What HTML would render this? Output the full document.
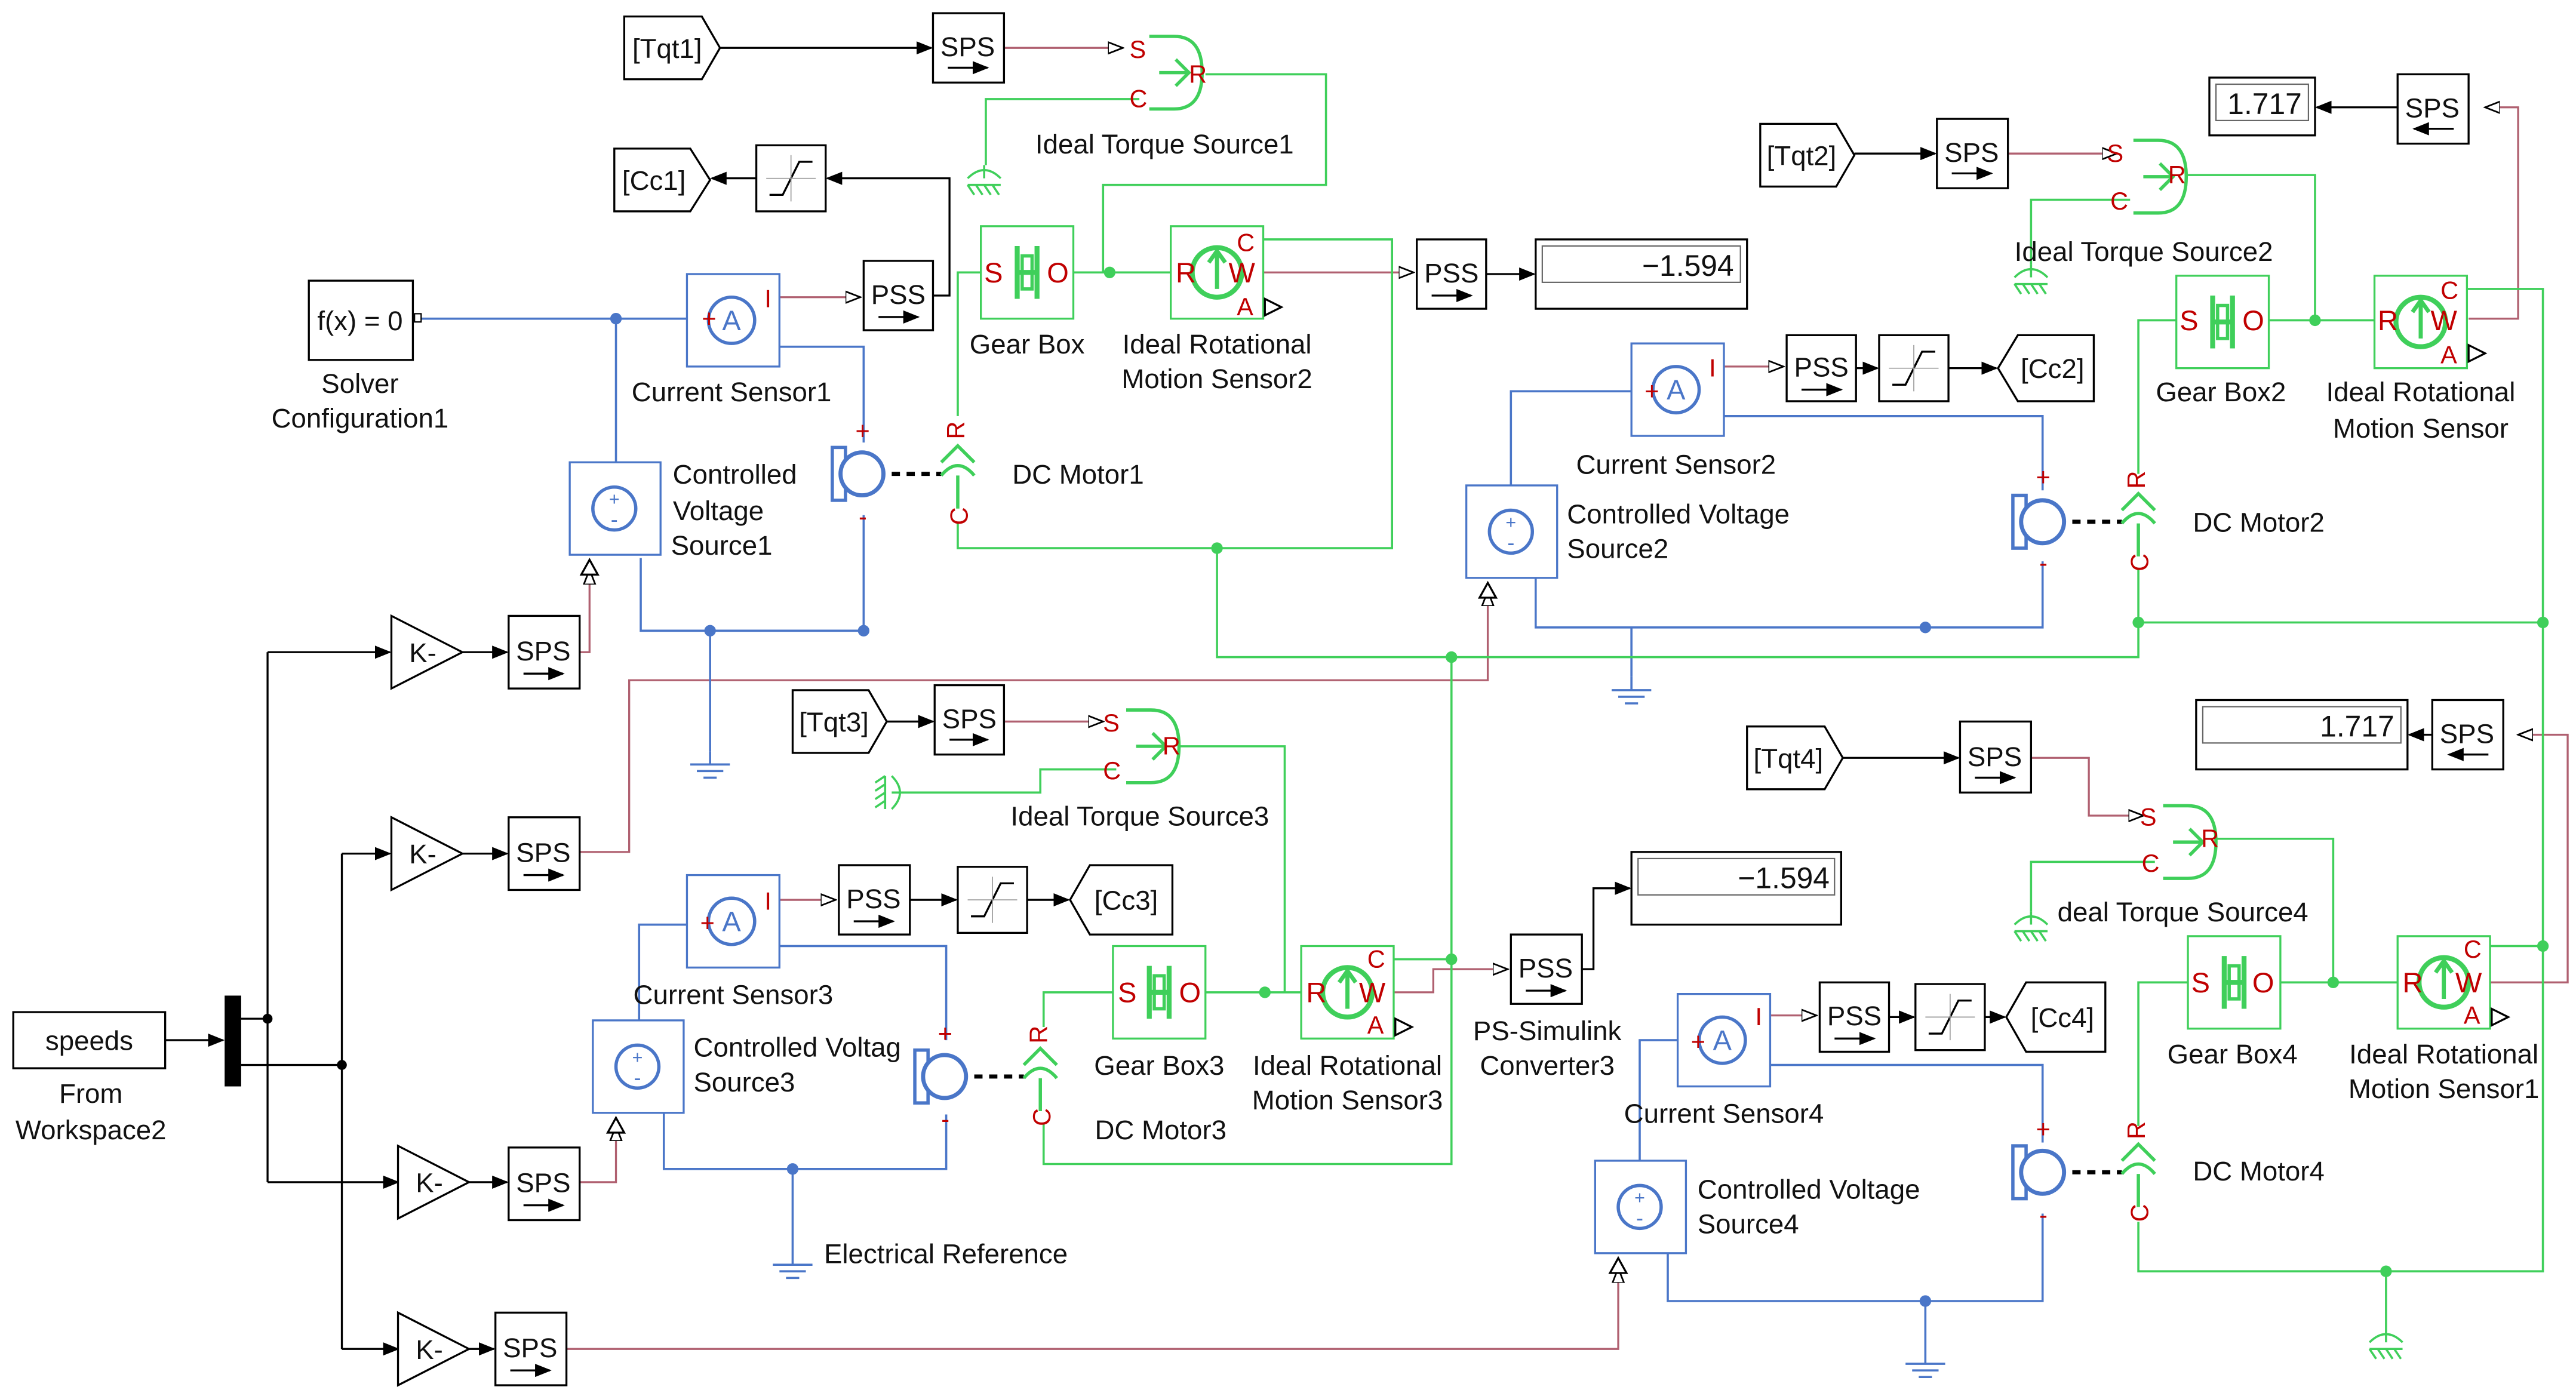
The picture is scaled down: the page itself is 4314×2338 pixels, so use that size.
<!DOCTYPE html>
<html><head><meta charset="utf-8"><style>
html,body{margin:0;padding:0;background:#fff}
svg{display:block}
text{font-family:"Liberation Sans",Arial,sans-serif;font-size:16.5px;fill:#111}
.b{fill:none;stroke:#4a76c8;stroke-width:1.3}
.g{fill:none;stroke:#3fcf5a;stroke-width:1.3}
.r{fill:none;stroke:#b06070;stroke-width:1.2}
.k{fill:none;stroke:#000;stroke-width:1.2}
.blk{fill:#fff;stroke:#000;stroke-width:1.2}
.bbx{fill:#fff;stroke:#4a76c8;stroke-width:1.2}
.gbx{fill:#fff;stroke:#3fcf5a;stroke-width:1.2}
.pr{fill:#c00000;font-size:15px}
.m{text-anchor:middle}
.sm{font-size:15px}
.dotb{fill:#4a76c8}.dotg{fill:#3fcf5a}
</style></head><body>
<svg width="4314" height="2338" viewBox="0 0 1560 845.5" xmlns="http://www.w3.org/2000/svg">
<defs>
<marker id="ab" markerWidth="10" markerHeight="8" refX="9" refY="4" orient="auto" markerUnits="userSpaceOnUse"><path d="M0,0L10,4L0,8z" fill="#000"/></marker>
<marker id="ao" markerWidth="10" markerHeight="8" refX="9" refY="4" orient="auto" markerUnits="userSpaceOnUse"><path d="M0,0.5L9,4L0,7.5z" fill="#fff" stroke="#000"/></marker>
<g id="sat"><rect width="42" height="40" class="blk"/><path d="M8,30H16L26,10H34" class="k"/><path d="M21,6V34M6,20H36" stroke="#999" stroke-width=".6"/></g>
<g id="gnd"><path d="M12,0V8M0,8H24M4,12H20M8,16H16" class="b"/></g>
<g id="ggnd"><path d="M10,0L10,8M0,8Q10,-2 20,8" class="g" stroke-width="2"/><path d="M0,12L4,18M5,12L9,18M10,12L14,18M15,12L19,18M0,12H20" class="g" stroke-width="1.5"/></g>
<g id="cs"><rect width="56" height="56" class="bbx"/><circle cx="27" cy="28" r="14" fill="#fff" stroke="#4a76c8" stroke-width="2"/><text x="27" y="34" class="m" style="fill:#4a76c8;font-size:17px">A</text></g>
<g id="vs"><rect width="55" height="56" class="bbx"/><circle cx="27" cy="28" r="13" fill="#fff" stroke="#4a76c8" stroke-width="2"/><text x="27" y="26" class="m" style="fill:#4a76c8;font-size:11px">+</text><text x="27" y="39" class="m" style="fill:#4a76c8;font-size:13px">-</text></g>
<g id="mot"><rect x="0" y="6" width="8" height="32" fill="none" stroke="#4a76c8" stroke-width="2"/><circle cx="18" cy="22" r="13" fill="#fff" stroke="#4a76c8" stroke-width="2.5"/></g>
<g id="gb"><rect width="56" height="56" class="gbx"/><path d="M22,12V44M34,12V44M22,28H34" stroke="#3fcf5a" stroke-width="3"/><rect x="25" y="18" width="6" height="20" fill="none" stroke="#3fcf5a" stroke-width="2"/></g>
<g id="ms"><rect width="56" height="56" class="gbx"/><circle cx="28" cy="28" r="15" fill="none" stroke="#3fcf5a" stroke-width="3"/><path d="M28,38V16M23,22L28,15L33,22" stroke="#3fcf5a" stroke-width="2.5" fill="none"/></g>
<g id="ts"><path d="M10,0H25Q42,0 42,22Q42,44 25,44H10" fill="#fff" stroke="#3fcf5a" stroke-width="2"/><path d="M16,22H34M26,14L34,22L26,30" stroke="#3fcf5a" stroke-width="2" fill="none"/></g>
<g id="cr"><path d="M0,20Q10,8 20,20M10,20V40M0,12L10,2L20,12" fill="none" stroke="#3fcf5a" stroke-width="2"/></g>
<g id="gain"><path d="M0,0L43,22L0,44z" class="blk"/></g>
</defs>

<!-- ========== WIRES: red signal ========== -->
<path d="M608,29H680" class="r" marker-end="url(#ao)"/>
<path d="M1216,93H1282" class="r" marker-end="url(#ao)"/>
<path d="M608,437H668" class="r" marker-end="url(#ao)"/>
<path d="M1230,459H1265V494H1298" class="r" marker-end="url(#ao)"/>
<path d="M765,165H856" class="r" marker-end="url(#ao)"/>
<path d="M1495,193H1525V65H1505" class="r" marker-end="url(#ao)"/>
<path d="M844,601H868V587H913" class="r" marker-end="url(#ao)"/>
<path d="M1508,595H1555V445H1525" class="r" marker-end="url(#ao)"/>
<path d="M351,395H357V345" class="r" marker-end="url(#ao)"/>
<path d="M351,516H381V412H901V358" class="r" marker-end="url(#ao)"/>
<path d="M351,716H373V682" class="r" marker-end="url(#ao)"/>
<path d="M343,817H980V768" class="r" marker-end="url(#ao)"/>
<path d="M472,180H521" class="r" marker-end="url(#ao)"/>
<path d="M1043,222H1080" class="r" marker-end="url(#ao)"/>
<path d="M472,545H506" class="r" marker-end="url(#ao)"/>
<path d="M1072,615H1100" class="r" marker-end="url(#ao)"/>

<!-- black -->
<path d="M436,29H564" class="k" marker-end="url(#ab)"/>
<path d="M1123,93H1172" class="k" marker-end="url(#ab)"/>
<path d="M537,437H565" class="k" marker-end="url(#ab)"/>
<path d="M1116,459H1186" class="k" marker-end="url(#ab)"/>
<path d="M565,179H575V108H501" class="k" marker-end="url(#ab)"/>
<path d="M458,108H431" class="k" marker-end="url(#ab)"/>
<path d="M900,166H929" class="k" marker-end="url(#ab)"/>
<path d="M1452,65H1403" class="k" marker-end="url(#ab)"/>
<path d="M1473,445H1459" class="k" marker-end="url(#ab)"/>
<path d="M1124,223H1137" class="k" marker-end="url(#ab)"/>
<path d="M1180,223H1209" class="k" marker-end="url(#ab)"/>
<path d="M551,545H579" class="k" marker-end="url(#ab)"/>
<path d="M622,545H647" class="k" marker-end="url(#ab)"/>
<path d="M1144,616H1159" class="k" marker-end="url(#ab)"/>
<path d="M1202,616H1214" class="k" marker-end="url(#ab)"/>
<path d="M958,587H965V538H987" class="k" marker-end="url(#ab)"/>
<path d="M100,630H135" class="k" marker-end="url(#ab)"/>
<path d="M146,617H162M162,395V716M146,645H207M207,517V817" class="k"/>
<path d="M162,395H236" class="k" marker-end="url(#ab)"/>
<path d="M162,716H241" class="k" marker-end="url(#ab)"/>
<path d="M207,517H236" class="k" marker-end="url(#ab)"/>
<path d="M207,817H241" class="k" marker-end="url(#ab)"/>
<path d="M280,395H307" class="k" marker-end="url(#ab)"/>
<path d="M280,517H307" class="k" marker-end="url(#ab)"/>
<path d="M284,716H307" class="k" marker-end="url(#ab)"/>
<path d="M284,817H299" class="k" marker-end="url(#ab)"/>
<circle cx="162" cy="617" r="3"/><circle cx="207" cy="645" r="3"/>
<!-- dashed shafts -->
<path d="M540,287H570M1255,316H1285M590,652H620M1255,710H1285" stroke="#000" stroke-width="2.5" stroke-dasharray="5,4"/>

<!-- ========== blue wires ========== -->
<path d="M255,193H418M373,193V280M472,210H523V268M523,312V382M388,338V382H523M430,382V455" class="b"/>
<circle cx="373" cy="193" r="3.5" class="dotb"/><circle cx="430" cy="382" r="3.5" class="dotb"/><circle cx="523" cy="382" r="3.5" class="dotb"/>
<path d="M915,294V237H990M1043,252H1237V297M930,350V380H1237V340M988,380V410" class="b"/>
<circle cx="1166" cy="380" r="3.5" class="dotb"/>
<path d="M387,618V560H418M472,573H573V630M402,673V708H573V675M480,708V758" class="b"/>
<circle cx="480" cy="708" r="3.5" class="dotb"/>
<path d="M993,703V630H1020M1072,645H1237V692M1010,758V788H1237V735M1166,788V818" class="b"/>
<circle cx="1166" cy="788" r="3.5" class="dotb"/>
<use href="#gnd" x="418" y="455"/><use href="#gnd" x="976" y="410"/><use href="#gnd" x="468" y="758"/><use href="#gnd" x="1154" y="818"/>

<!-- ========== green wires ========== -->
<path d="M730,45H803V112H668V165M690,60H597V100M650,165H710M594,165H580V252M765,145H843V332H580V316M737,332V398H1295V345M879,398V705H632V680" class="g"/>
<circle cx="672" cy="165" r="3.5" class="dotg"/><circle cx="737" cy="332" r="3.5" class="dotg"/><circle cx="879" cy="398" r="3.5" class="dotg"/><circle cx="879" cy="581" r="3.5" class="dotg"/>
<path d="M1320,106H1402V194M1290,121H1230V160M1373,194H1438M1318,194H1295V287M1493,175H1540V770H1295V740M1295,377H1540" class="g"/>
<circle cx="1402" cy="194" r="3.5" class="dotg"/><circle cx="1295" cy="377" r="3.5" class="dotg"/><circle cx="1540" cy="377" r="3.5" class="dotg"/><circle cx="1540" cy="573" r="3.5" class="dotg"/><circle cx="1445" cy="770" r="3.5" class="dotg"/>
<path d="M710,452H778V601M676,466H630V480H548M730,601H790M674,601H632V622M844,581H879" class="g"/>
<circle cx="766" cy="601" r="3.5" class="dotg"/>
<path d="M1340,508H1413V595M1305,522H1230V552M1380,595H1453M1325,595H1295V682M1508,573H1540M1445,770V805" class="g"/>
<circle cx="1413" cy="595" r="3.5" class="dotg"/>
<use href="#ggnd" x="586" y="100"/><use href="#ggnd" x="1220" y="160"/><use href="#ggnd" x="1220" y="552"/><use href="#ggnd" x="1435" y="805"/>
<use href="#ggnd" transform="translate(548,470) rotate(90)"/>

<!-- ========== blocks ========== -->
<!-- tags -->
<path d="M378,10H425L436,29L425,48H378z" class="blk"/><text x="404" y="35" class="m">[Tqt1]</text>
<path d="M1066,75H1112L1123,94L1112,113H1066z" class="blk"/><text x="1091" y="100" class="m">[Tqt2]</text>
<path d="M480,418H526L537,437L526,456H480z" class="blk"/><text x="505" y="443" class="m">[Tqt3]</text>
<path d="M1058,440H1105L1116,459L1105,478H1058z" class="blk"/><text x="1083" y="465" class="m">[Tqt4]</text>
<path d="M372,90H418L430,109L418,128H372z" class="blk"/><text x="396" y="115" class="m">[Cc1]</text>
<path d="M1210,223L1222,203H1268V243H1222z" class="blk"/><text x="1243" y="229" class="m">[Cc2]</text>
<path d="M648,545L660,524H710V566H660z" class="blk"/><text x="682" y="551" class="m">[Cc3]</text>
<path d="M1215,616L1227,595H1275V637H1227z" class="blk"/><text x="1249" y="622" class="m">[Cc4]</text>

<!-- SPS / PSS blocks -->
<g>
<rect x="565" y="8" width="43" height="42" class="blk"/><text x="586" y="34" class="m">SPS</text><path d="M574,41H598" class="k" marker-end="url(#ab)"/>
<rect x="1173" y="72" width="43" height="42" class="blk"/><text x="1194" y="98" class="m">SPS</text><path d="M1182,105H1206" class="k" marker-end="url(#ab)"/>
<rect x="566" y="415" width="42" height="42" class="blk"/><text x="587" y="441" class="m">SPS</text><path d="M575,448H598" class="k" marker-end="url(#ab)"/>
<rect x="1187" y="437" width="43" height="43" class="blk"/><text x="1208" y="464" class="m">SPS</text><path d="M1196,471H1220" class="k" marker-end="url(#ab)"/>
<rect x="1452" y="45" width="43" height="42" class="blk"/><text x="1473" y="71" class="m">SPS</text><path d="M1486,78H1462" class="k" marker-end="url(#ab)"/>
<rect x="1473" y="424" width="43" height="42" class="blk"/><text x="1494" y="450" class="m">SPS</text><path d="M1507,457H1483" class="k" marker-end="url(#ab)"/>
<rect x="308" y="373" width="43" height="44" class="blk"/><text x="329" y="400" class="m">SPS</text><path d="M317,408H341" class="k" marker-end="url(#ab)"/>
<rect x="308" y="495" width="43" height="44" class="blk"/><text x="329" y="522" class="m">SPS</text><path d="M317,530H341" class="k" marker-end="url(#ab)"/>
<rect x="308" y="695" width="43" height="44" class="blk"/><text x="329" y="722" class="m">SPS</text><path d="M317,730H341" class="k" marker-end="url(#ab)"/>
<rect x="300" y="795" width="43" height="44" class="blk"/><text x="321" y="822" class="m">SPS</text><path d="M309,830H333" class="k" marker-end="url(#ab)"/>
<rect x="523" y="158" width="42" height="42" class="blk"/><text x="544" y="184" class="m">PSS</text><path d="M532,192H556" class="k" marker-end="url(#ab)"/>
<rect x="858" y="145" width="42" height="42" class="blk"/><text x="879" y="171" class="m">PSS</text><path d="M867,179H891" class="k" marker-end="url(#ab)"/>
<rect x="1082" y="203" width="42" height="40" class="blk"/><text x="1103" y="228" class="m">PSS</text><path d="M1091,236H1115" class="k" marker-end="url(#ab)"/>
<rect x="508" y="524" width="43" height="42" class="blk"/><text x="529" y="550" class="m">PSS</text><path d="M517,558H541" class="k" marker-end="url(#ab)"/>
<rect x="915" y="566" width="43" height="42" class="blk"/><text x="936" y="592" class="m">PSS</text><path d="M924,600H948" class="k" marker-end="url(#ab)"/>
<rect x="1102" y="595" width="42" height="42" class="blk"/><text x="1123" y="621" class="m">PSS</text><path d="M1111,629H1135" class="k" marker-end="url(#ab)"/>
</g>
<use href="#sat" x="458" y="88"/><use href="#sat" x="1138" y="203"/><use href="#sat" x="580" y="525"/><use href="#sat" x="1160" y="596"/>

<!-- displays -->
<rect x="930" y="145" width="128" height="42" class="blk"/><rect x="934" y="149" width="120" height="22" fill="none" stroke="#666" stroke-width=".8"/><text x="1050" y="167" text-anchor="end" style="font-size:18px">−1.594</text>
<rect x="988" y="516" width="127" height="44" class="blk"/><rect x="992" y="520" width="119" height="22" fill="none" stroke="#666" stroke-width=".8"/><text x="1108" y="538" text-anchor="end" style="font-size:18px">−1.594</text>
<rect x="1338" y="47" width="64" height="35" class="blk"/><rect x="1342" y="51" width="56" height="22" fill="none" stroke="#666" stroke-width=".8"/><text x="1394" y="69" text-anchor="end" style="font-size:18px">1.717</text>
<rect x="1330" y="424" width="128" height="42" class="blk"/><rect x="1334" y="428" width="120" height="22" fill="none" stroke="#666" stroke-width=".8"/><text x="1450" y="446" text-anchor="end" style="font-size:18px">1.717</text>

<!-- solver, speeds, demux, gains -->
<rect x="187" y="170" width="63" height="48" class="blk"/><text x="218" y="200" class="m">f(x) = 0</text><rect x="251" y="190" width="4" height="5" fill="#fff" stroke="#000" stroke-width=".8"/>
<text x="218" y="238" class="m">Solver</text><text x="218" y="259" class="m">Configuration1</text>
<rect x="8" y="613" width="92" height="34" class="blk"/><text x="54" y="636" class="m">speeds</text>
<text x="55" y="668" class="m">From</text><text x="55" y="690" class="m">Workspace2</text>
<rect x="136" y="603" width="10" height="55" fill="#000"/>
<use href="#gain" x="237" y="373"/><text x="256" y="401" class="m">K-</text>
<use href="#gain" x="237" y="495"/><text x="256" y="523" class="m">K-</text>
<use href="#gain" x="241" y="694"/><text x="260" y="722" class="m">K-</text>
<use href="#gain" x="241" y="795"/><text x="260" y="823" class="m">K-</text>

<!-- current sensors -->
<use href="#cs" x="416" y="166"/><text x="425" y="198" class="pr">+</text><text x="463" y="186" class="pr">I</text><text x="443" y="243" class="m">Current Sensor1</text>
<use href="#cs" x="988" y="208"/><text x="996" y="242" class="pr">+</text><text x="1035" y="228" class="pr">I</text><text x="1015" y="287" class="m">Current Sensor2</text>
<use href="#cs" x="416" y="530"/><text x="424" y="564" class="pr">+</text><text x="463" y="551" class="pr">I</text><text x="444" y="608" class="m">Current Sensor3</text>
<use href="#cs" x="1016" y="602"/><text x="1024" y="636" class="pr">+</text><text x="1063" y="621" class="pr">I</text><text x="1044" y="680" class="m">Current Sensor4</text>

<!-- voltage sources -->
<use href="#vs" x="345" y="280"/><path d="M352,348L357,339L362,348z" class="blk"/>
<text x="445" y="293" class="m">Controlled</text><text x="435" y="315" class="m">Voltage</text><text x="437" y="336" class="m">Source1</text>
<use href="#vs" x="888" y="294"/><path d="M896,362L901,353L906,362z" class="blk"/>
<text x="949" y="317">Controlled Voltage</text><text x="949" y="338">Source2</text>
<use href="#vs" x="359" y="618"/><path d="M368,686L373,677L378,686z" class="blk"/>
<text x="420" y="640">Controlled Voltag</text><text x="420" y="661">Source3</text>
<use href="#vs" x="966" y="703"/><path d="M975,771L980,762L985,771z" class="blk"/>
<text x="1028" y="726">Controlled Voltage</text><text x="1028" y="747">Source4</text>

<!-- motors -->
<use href="#mot" x="504" y="265"/><text x="518" y="266" class="pr">+</text><text x="520" y="318" class="pr">-</text><use href="#cr" x="570" y="268"/><text x="584" y="266" class="pr" transform="rotate(-90 584 266)">R</text><text x="586" y="318" class="pr" transform="rotate(-90 586 318)">C</text><text x="613" y="293">DC Motor1</text>
<use href="#mot" x="1219" y="294"/><text x="1233" y="294" class="pr">+</text><text x="1235" y="346" class="pr">-</text><use href="#cr" x="1285" y="297"/><text x="1299" y="296" class="pr" transform="rotate(-90 1299 296)">R</text><text x="1301" y="346" class="pr" transform="rotate(-90 1301 346)">C</text><text x="1328" y="322">DC Motor2</text>
<use href="#mot" x="554" y="630"/><text x="568" y="631" class="pr">+</text><text x="570" y="683" class="pr">-</text><use href="#cr" x="620" y="633"/><text x="634" y="632" class="pr" transform="rotate(-90 634 632)">R</text><text x="636" y="682" class="pr" transform="rotate(-90 636 682)">C</text><text x="663" y="690">DC Motor3</text>
<use href="#mot" x="1219" y="688"/><text x="1233" y="689" class="pr">+</text><text x="1235" y="741" class="pr">-</text><use href="#cr" x="1285" y="691"/><text x="1299" y="690" class="pr" transform="rotate(-90 1299 690)">R</text><text x="1301" y="740" class="pr" transform="rotate(-90 1301 740)">C</text><text x="1328" y="715">DC Motor4</text>

<!-- torque sources -->
<use href="#ts" x="686" y="22"/><text x="684" y="35" class="pr">S</text><text x="684" y="65" class="pr">C</text><text x="720" y="50" class="pr">R</text><text x="627" y="93">Ideal Torque Source1</text>
<use href="#ts" x="1282" y="85"/><text x="1276" y="98" class="pr">S</text><text x="1278" y="127" class="pr">C</text><text x="1313" y="111" class="pr">R</text><text x="1220" y="158">Ideal Torque Source2</text>
<use href="#ts" x="672" y="430"/><text x="668" y="443" class="pr">S</text><text x="668" y="472" class="pr">C</text><text x="704" y="457" class="pr">R</text><text x="612" y="500">Ideal Torque Source3</text>
<use href="#ts" x="1300" y="488"/><text x="1296" y="500" class="pr">S</text><text x="1297" y="528" class="pr">C</text><text x="1333" y="513" class="pr">R</text><text x="1246" y="558">deal Torque Source4</text>

<!-- gear boxes -->
<use href="#gb" x="594" y="137"/><text x="596" y="171" class="pr" style="font-size:17px">S</text><text x="634" y="171" class="pr" style="font-size:17px">O</text><text x="622" y="214" class="m">Gear Box</text>
<use href="#gb" x="1318" y="167"/><text x="1320" y="200" class="pr" style="font-size:17px">S</text><text x="1358" y="200" class="pr" style="font-size:17px">O</text><text x="1345" y="243" class="m">Gear Box2</text>
<use href="#gb" x="674" y="573"/><text x="677" y="607" class="pr" style="font-size:17px">S</text><text x="714" y="607" class="pr" style="font-size:17px">O</text><text x="702" y="651" class="m">Gear Box3</text>
<use href="#gb" x="1325" y="567"/><text x="1327" y="601" class="pr" style="font-size:17px">S</text><text x="1364" y="601" class="pr" style="font-size:17px">O</text><text x="1352" y="644" class="m">Gear Box4</text>

<!-- motion sensors -->
<use href="#ms" x="709" y="137"/><text x="712" y="171" class="pr" style="font-size:17px">R</text><text x="744" y="171" class="pr" style="font-size:17px">W</text><text x="749" y="152" class="pr">C</text><text x="749" y="191" class="pr">A</text><path d="M766,181L776,186L766,191z" class="blk"/><text x="737" y="214" class="m">Ideal Rotational</text><text x="737" y="235" class="m">Motion Sensor2</text>
<use href="#ms" x="1438" y="167"/><text x="1440" y="200" class="pr" style="font-size:17px">R</text><text x="1472" y="200" class="pr" style="font-size:17px">W</text><text x="1478" y="181" class="pr">C</text><text x="1478" y="220" class="pr">A</text><path d="M1495,209L1505,214L1495,219z" class="blk"/><text x="1466" y="243" class="m">Ideal Rotational</text><text x="1466" y="265" class="m">Motion Sensor</text>
<use href="#ms" x="788" y="573"/><text x="791" y="607" class="pr" style="font-size:17px">R</text><text x="823" y="607" class="pr" style="font-size:17px">W</text><text x="828" y="586" class="pr">C</text><text x="828" y="626" class="pr">A</text><path d="M845,617L855,622L845,627z" class="blk"/><text x="816" y="651" class="m">Ideal Rotational</text><text x="816" y="672" class="m">Motion Sensor3</text>
<use href="#ms" x="1452" y="567"/><text x="1455" y="601" class="pr" style="font-size:17px">R</text><text x="1487" y="601" class="pr" style="font-size:17px">W</text><text x="1492" y="580" class="pr">C</text><text x="1492" y="620" class="pr">A</text><path d="M1509,611L1519,616L1509,621z" class="blk"/><text x="1480" y="644" class="m">Ideal Rotational</text><text x="1480" y="665" class="m">Motion Sensor1</text>

<text x="937" y="630" class="m">PS-Simulink</text><text x="937" y="651" class="m">Converter3</text>
<text x="499" y="765">Electrical Reference</text>
</svg>
</body></html>
